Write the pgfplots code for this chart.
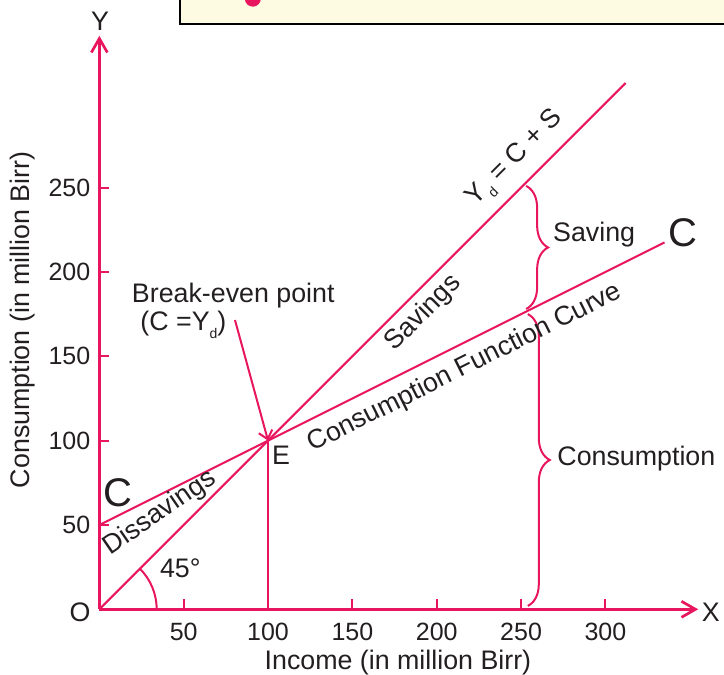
\documentclass[border=0pt]{standalone}
\usepackage{pgfplots}
\pgfplotsset{compat=1.18}
\usepackage{fontspec}
\setmainfont{Liberation Sans}
\usetikzlibrary{arrows.meta,decorations.pathreplacing}
\definecolor{cpink}{RGB}{232,22,94}
\definecolor{ctext}{RGB}{35,31,32}
\definecolor{cbox}{RGB}{253,251,226}
\newcommand{\sub}[1]{\raisebox{-0.55ex}{\fontsize{7}{8}\selectfont #1}}
\begin{document}
\begin{tikzpicture}
\begin{axis}[
  x=0.8435pt, y=0.8435pt,
  xmin=0, xmax=355, ymin=0, ymax=340,
  axis lines=left,
  clip=false,
  axis line style={draw=cpink, line width=1.35pt},
  every outer x axis line/.append style={-{Straight Barb[length=7pt,width=8pt]}},
  every outer y axis line/.append style={-{Straight Barb[length=7pt,width=8pt]}},
  xtick={50,100,150,200,250,300},
  ytick={50,100,150,200,250},
  tick align=inside,
  major tick length=5pt,
  tick style={draw=cpink, line width=1pt},
  /pgf/number format/assume math mode=true,
  ticklabel style={font=\fontsize{12.5}{14}\selectfont, text=ctext},
  xticklabel style={yshift=-3.5pt},
  yticklabel style={xshift=-1pt},
]
% top box (cropped)
\draw[fill=cbox, draw=black, line width=1pt] (axis cs:47.9,346.9) rectangle (axis cs:400,400);
\fill[cpink] (axis cs:91,362) circle[radius=4pt];
% bounding box corners
\coordinate (bbll) at (axis cs:-58.9,-38.4);
\coordinate (bbur) at (axis cs:370.3,361.2);

% 45 degree line
\addplot[cpink, line width=1pt] coordinates {(0,0) (312,312)};
% consumption function
\addplot[cpink, line width=1pt] coordinates {(0,50) (335,217.5)};
% vertical from E
\addplot[cpink, line width=1pt] coordinates {(100,0) (100,100)};

% arc 45
\draw[cpink, line width=1pt] (axis cs:34,0) arc[start angle=0, end angle=45, radius=28.7pt];

% braces
\draw[cpink, line width=1pt, decorate, decoration={brace, amplitude=11pt}] (axis cs:253,251) -- (axis cs:253,178);
\draw[cpink, line width=1pt, decorate, decoration={brace, amplitude=11pt}] (axis cs:254,175) -- (axis cs:254,2);

% break-even arrow
\draw[cpink, line width=1pt, -{Straight Barb[length=4pt,width=7pt]}] (axis cs:80.4,171.5) -- (axis cs:100,100);

% texts
\begin{scope}[every node/.style={text=ctext, font=\fontsize{13.4}{15}\selectfont, inner sep=0pt}]
\node at (axis cs:-11.4,-1.6) {O};
\node at (axis cs:362.5,-1.6) {X};
\node at (axis cs:0.4,348.4) {Y};
\node at (axis cs:107.7,91.5) {E};
\node[font=\fontsize{20}{24}\selectfont] at (axis cs:11.1,68.9) {C};
\node[font=\fontsize{20}{24}\selectfont] at (axis cs:346,223) {C};
\node at (axis cs:48,24.5) {45°};
\node[rotate=34.5] at (axis cs:36,57.1) {Dissavings};
\node[rotate=45] at (axis cs:192.1,175.5) {Savings};
\node[rotate=45] at (axis cs:246.8,267.3) {Y\sub{d} = C + S};
\node[rotate=26.57] at (axis cs:216.8,143) {Consumption Function Curve};
\node at (axis cs:79.4,185.8) {Break-even point};
\node[anchor=west] at (axis cs:24.1,168.5) {(C =Y\sub{d})};
\node[anchor=west] at (axis cs:268.8,222) {Saving};
\node[anchor=west] at (axis cs:271.3,89.2) {Consumption};
\node at (axis cs:177,-31.5) {Income (in million Birr)};
\node[rotate=90] at (axis cs:-45.8,171.6) {Consumption (in million Birr)};
\end{scope}
\end{axis}
\pgfresetboundingbox
\useasboundingbox (bbll) rectangle (bbur);
\end{tikzpicture}
\end{document}
